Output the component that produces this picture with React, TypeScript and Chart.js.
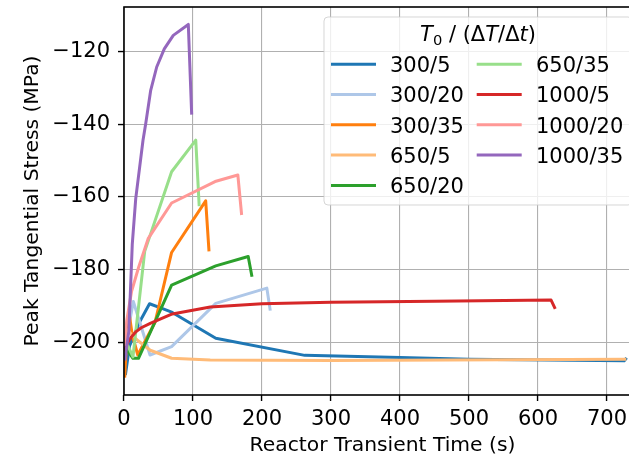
import React, { useEffect, useRef } from 'react';
import { Chart, registerables } from 'chart.js';

Chart.register(...registerables);

const FAMILY = 'DejaVu Sans';

// tick labels
const xTicks = [0, 100, 200, 300, 400, 500, 600, 700];
const yTicks = [-200, -180, -160, -140, -120];

// series (T0 / dT/dt)
const seriesLabels = ['300/5', '300/20', '300/35', '650/5', '650/20', '650/35', '1000/5', '1000/20', '1000/35'];
const seriesColors = ['#1f77b4', '#aec7e8', '#ff7f0e', '#ffbb78', '#2ca02c', '#98df8a', '#d62728', '#ff9896', '#9467bd'];

const t300_5 = [2, 8, 23, 37, 55, 70, 133, 262, 400, 500, 725, 728.5];
const s300_5 = [-209, -201, -194.3, -189.4, -190.7, -191.8, -198.9, -203.6, -204.2, -204.7, -205.1, -204.3];

const t300_20 = [1, 13.5, 37.7, 69, 133, 207, 212];
const s300_20 = [-202, -188.8, -203.5, -201.2, -189.3, -185.1, -191.3];

const t300_35 = [1, 4, 7, 12, 20, 45, 69, 118.4, 123.2];
const s300_35 = [-209.7, -199, -191.5, -198, -203.5, -194.5, -175.3, -161.1, -175];

const t650_5 = [1, 4, 20, 38, 69, 125, 300, 728];
const s650_5 = [-201, -196.5, -199.5, -202.2, -204.4, -204.9, -205, -204.7];

const t650_20 = [1, 6, 13, 21, 69, 133, 180, 185.5];
const s650_20 = [-199.5, -202.5, -204.4, -204.4, -184.3, -179, -176.4, -182];

const t650_35 = [1, 13, 30, 69, 104, 109];
const s650_35 = [-199, -204, -175, -153.1, -144.4, -162.6];

const t1000_5 = [0.5, 5, 10, 18, 25, 38, 70, 125, 200, 300, 450, 619, 625];
const s1000_5 = [-202.5, -200.2, -198.7, -197, -196, -194.8, -192.2, -190.3, -189.4, -189, -188.7, -188.4, -190.8];

const t1000_20 = [0.5, 4, 11, 21, 35, 69, 132, 165, 170.5];
const s1000_20 = [-201, -194, -186, -179.5, -171.5, -161.7, -155.8, -154, -165];

const t1000_35 = [1, 7, 12, 17, 27.5, 31.4, 38.7, 47.4, 58.4, 71.4, 93.2, 98.1];
const s1000_35 = [-205, -197, -173, -160.5, -144.5, -140, -130.7, -124.3, -119.3, -115.6, -112.6, -137.4];

const seriesTimes = [t300_5, t300_20, t300_35, t650_5, t650_20, t650_35, t1000_5, t1000_20, t1000_35];
const seriesStress = [s300_5, s300_20, s300_35, s650_5, s650_20, s650_35, s1000_5, s1000_20, s1000_35];

const xTitle = 'Reactor Transient Time (s)';
const yTitle = 'Peak Tangential Stress (MPa)';

const fmtY = (v: number) => (v < 0 ? '\u2212' + Math.abs(v) : String(v));

const LEG = 21;

const mplPlugin = {
  id: 'mplDecor',
  afterDatasetsDraw(chart: any) {
    const ctx: CanvasRenderingContext2D = chart.ctx;
    const a = chart.chartArea;
    ctx.save();
    // spines
    ctx.strokeStyle = '#000';
    ctx.lineWidth = 1.6;
    ctx.strokeRect(a.left, a.top, a.right - a.left, a.bottom - a.top);

    // legend frame
    const bx = 324, by = 17, bw = 308, bh = 188;
    ctx.beginPath();
    (ctx as any).roundRect(bx, by, bw, bh, 4);
    ctx.fillStyle = 'rgba(255,255,255,0.8)';
    ctx.fill();
    ctx.strokeStyle = 'rgba(204,204,204,0.8)';
    ctx.lineWidth = 1;
    ctx.stroke();

    // legend title: T_0 / (ΔT/Δt)
    const segs = [
      { t: 'T', f: `italic ${LEG}px "${FAMILY}"`, dy: 0 },
      { t: '0', f: `${LEG * 0.7}px "${FAMILY}"`, dy: 3.5 },
      { t: ' / (\u0394', f: `${LEG}px "${FAMILY}"`, dy: 0 },
      { t: 'T', f: `italic ${LEG}px "${FAMILY}"`, dy: 0 },
      { t: '/\u0394', f: `${LEG}px "${FAMILY}"`, dy: 0 },
      { t: 't', f: `italic ${LEG}px "${FAMILY}"`, dy: 0 },
      { t: ')', f: `${LEG}px "${FAMILY}"`, dy: 0 },
    ];
    let total = 0;
    const widths = segs.map((s) => {
      ctx.font = s.f;
      const w = ctx.measureText(s.t).width;
      total += w;
      return w;
    });
    let x = 478 - total / 2;
    ctx.fillStyle = '#000';
    ctx.textBaseline = 'alphabetic';
    ctx.textAlign = 'left';
    segs.forEach((s, i) => {
      ctx.font = s.f;
      ctx.fillText(s.t, x, 41 + s.dy);
      x += widths[i];
    });

    // legend entries (2 columns, column-major)
    chart.data.datasets.forEach((ds: any, i: number) => {
      const col = i < 5 ? 0 : 1;
      const row = i < 5 ? i : i - 5;
      const y = 64.2 + row * 30.3;
      const lx = col === 0 ? 331 : 476.7;
      ctx.strokeStyle = ds.borderColor;
      ctx.lineWidth = 3;
      ctx.lineCap = 'butt';
      ctx.beginPath();
      ctx.moveTo(lx, y);
      ctx.lineTo(lx + 45, y);
      ctx.stroke();
      ctx.fillStyle = '#000';
      ctx.font = `${LEG}px "${FAMILY}"`;
      ctx.fillText(ds.label, col === 0 ? 390 : 536, y + 7.8);
    });
    ctx.restore();
  },
};

export default function App() {
  const ref = useRef<HTMLCanvasElement>(null);

  useEffect(() => {
    const canvas = ref.current!;
    Chart.defaults.font.family = FAMILY;
    const datasets = seriesLabels.map((label, i) => ({
      label,
      data: seriesTimes[i].map((t, j) => ({ x: t, y: seriesStress[i][j] })),
      borderColor: seriesColors[i],
      backgroundColor: seriesColors[i],
      borderWidth: 3,
      pointRadius: 0,
      tension: 0,
      fill: false,
      borderJoinStyle: 'round' as const,
      borderCapStyle: 'butt' as const,
      order: -i,
    }));

    const tickFont = { size: 21, family: FAMILY };
    const titleFont = { size: 20.3, family: FAMILY };
    const chart = new Chart(canvas, {
      type: 'line',
      data: { datasets },
      options: {
        animation: false,
        responsive: false,
        devicePixelRatio: 1,
        layout: { padding: { left: 0, top: 7, right: 19, bottom: 0 } },
        plugins: { legend: { display: false }, tooltip: { enabled: false } },
        scales: {
          x: {
            type: 'linear',
            min: 0,
            max: 749.3,
            afterBuildTicks: (ax: any) => {
              ax.ticks = xTicks.map((v) => ({ value: v }));
            },
            afterFit: (ax: any) => {
              ax.height = 75;
              ax.paddingLeft = 0;
              ax.paddingRight = 0;
            },
            ticks: {
              color: '#000',
              font: tickFont,
              padding: 6,
              maxRotation: 0,
              autoSkip: false,
              callback: (v: any) => String(v),
            },
            grid: { color: '#b0b0b0', lineWidth: 1.1, tickColor: '#000', tickLength: 6, tickWidth: 1.4, drawTicks: true },
            border: { display: false },
            title: { display: true, text: xTitle, color: '#000', font: titleFont, padding: { top: 0, bottom: 12 } },
          },
          y: {
            type: 'linear',
            min: -214.5,
            max: -107.8,
            afterBuildTicks: (ax: any) => {
              ax.ticks = yTicks.map((v) => ({ value: v }));
            },
            afterFit: (ax: any) => {
              ax.width = 124;
              ax.paddingTop = 0;
              ax.paddingBottom = 0;
            },
            ticks: {
              color: '#000',
              font: tickFont,
              padding: 8,
              autoSkip: false,
              callback: (v: any) => fmtY(Number(v)),
            },
            grid: { color: '#b0b0b0', lineWidth: 1.1, tickColor: '#000', tickLength: 6, tickWidth: 1.4, drawTicks: true },
            border: { display: false },
            title: { display: true, text: yTitle, color: '#000', font: titleFont, padding: { top: 21, bottom: 0 } },
          },
        },
      } as any,
      plugins: [mplPlugin],
    });
    return () => chart.destroy();
  }, []);

  return (
    <div style={{ position: 'fixed', left: 0, top: 0, width: 629, height: 455, overflow: 'hidden', background: '#fff' }}>
      <canvas ref={ref} width={660} height={470} style={{ display: 'block', width: 660, height: 470 }} />
    </div>
  );
}
